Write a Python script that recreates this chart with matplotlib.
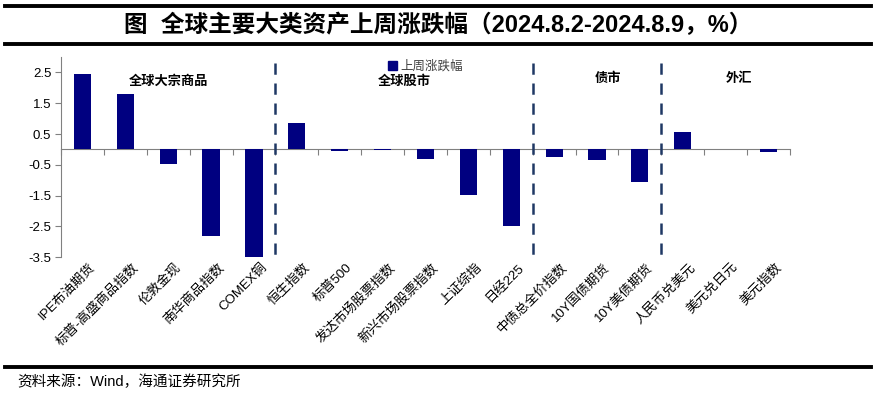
import matplotlib.pyplot as plt
from matplotlib.lines import Line2D
from matplotlib.patches import Patch
import numpy as np

plt.rcParams['font.family'] = ['Liberation Sans', 'Noto Sans CJK SC', 'DejaVu Sans']

categories = ["IPE布油期货", "标普-高盛商品指数", "伦敦金现", "南华商品指数", "COMEX铜",
              "恒生指数", "标普500", "发达市场股票指数", "新兴市场股票指数", "上证综指", "日经225",
              "中债总全价指数", "10Y国债期货", "10Y美债期货",
              "人民币兑美元", "美元兑日元", "美元指数"]
weekly_change = [2.45, 1.79, -0.47, -2.81, -3.49,
                 0.85, -0.05, -0.03, -0.31, -1.49, -2.47,
                 -0.23, -0.35, -1.06,
                 0.56, 0.03, -0.08]
groups = ["全球大宗商品", "全球股市", "债市", "外汇"]
group_sizes = [5, 6, 3, 3]
y_ticks = [2.5, 1.5, 0.5, -0.5, -1.5, -2.5, -3.5]

bar_color = '#000080'
dash_color = '#1F3864'

fig = plt.figure(figsize=(8.76, 3.95), dpi=100)
ax = fig.add_axes([0.0696, 0.3486, 0.8322, 0.8557 - 0.3486])

x = np.arange(len(categories))
ax.bar(x, weekly_change, width=0.4, color=bar_color, zorder=3)
ax.set_xlim(-0.5, len(categories) - 0.5)
ax.set_ylim(-3.5, 3.0)

# axes styling
for side in ['top', 'right']:
    ax.spines[side].set_visible(False)
ax.spines['left'].set_color('#808080')
ax.spines['bottom'].set_position(('data', 0))
ax.spines['bottom'].set_color('#808080')
ax.set_xticks(np.arange(len(categories) + 1) - 0.5)
ax.set_xticklabels([])
ax.tick_params(axis='x', direction='out', length=4, color='#808080')
ax.set_yticks(y_ticks)
ax.set_yticklabels([f"{t:.1f}" for t in y_ticks])
ax.tick_params(axis='y', direction='out', length=4, color='#808080', labelsize=9.5, pad=3)

# category labels under the plot
for i, name in enumerate(categories):
    ax.text(i + 0.15, -3.62, name, rotation=45, rotation_mode='anchor',
            ha='right', va='top', fontsize=9.5)

# group separators and group names
bounds = np.cumsum(group_sizes)
for b in bounds[:-1]:
    ax.plot([b - 0.5, b - 0.5], [2.81, -3.66], color=dash_color, lw=1.8,
            dashes=(4.5, 3.5), clip_on=False, zorder=4)
label_pos = [(2.0, 2.21), (7.5, 2.21), (12.25, 2.3), (15.3, 2.3)]
for g, (gx, gy) in zip(groups, label_pos):
    ax.text(gx, gy, g, ha='center', va='center', fontsize=9.5, fontweight='bold')

# legend
ax.legend(handles=[Patch(color=bar_color, label="上周涨跌幅")], loc='upper center',
          bbox_to_anchor=(0.5, 1.04), frameon=False, fontsize=9,
          handlelength=0.7, handleheight=0.7, handletextpad=0.3, labelcolor='#404040')

# title, rules and source
fig.text(0.5, 0.937, "图  全球主要大类资产上周涨跌幅（2024.8.2-2024.8.9，%）",
         ha='center', va='center', fontsize=17, fontweight='bold')
for yy in [0.985, 0.888, 0.071]:
    fig.add_artist(Line2D([0.006, 0.994], [yy, yy], color='black', lw=2.8))
fig.text(0.02, 0.034, "资料来源：Wind，海通证券研究所", ha='left', va='center', fontsize=10.5)

fig.savefig('out.png', dpi=100)
